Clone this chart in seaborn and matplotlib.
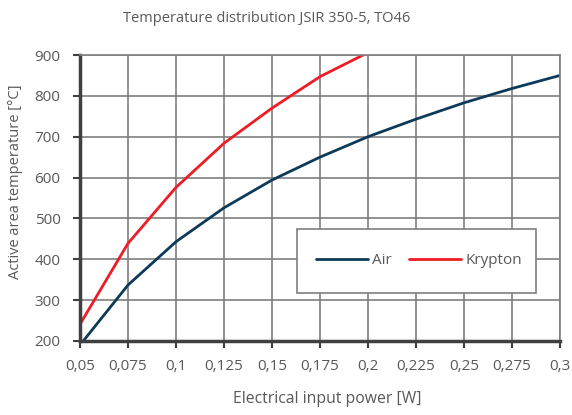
import numpy as np
import pandas as pd
import matplotlib
matplotlib.use('Agg')
import matplotlib.pyplot as plt
import seaborn as sns
from matplotlib.patches import Rectangle
from matplotlib.ticker import FuncFormatter, MultipleLocator

# 데이터
power = [0.05, 0.075, 0.1, 0.125, 0.15, 0.175, 0.2, 0.225, 0.25, 0.275, 0.3]
air = [190, 337, 443, 526, 594, 650, 700, 743, 783, 818, 850]
krypton_power = [0.05, 0.075, 0.1, 0.125, 0.15, 0.175, 0.2]
krypton = [241, 439, 576, 684, 770, 847, 906]

df = pd.concat([
    pd.DataFrame({'power': power, 'temp': air, 'gas': 'Air'}),
    pd.DataFrame({'power': krypton_power, 'temp': krypton, 'gas': 'Krypton'}),
])

sns.set_style('white')
plt.rcParams['font.family'] = ['Open Sans', 'DejaVu Sans']
text_color = '#595959'
W, H = 572, 415

fig = plt.figure(figsize=(W / 100, H / 100), dpi=100)
ax = fig.add_axes([80 / W, 74 / H, 480 / W, 286 / H])

sns.lineplot(data=df, x='power', y='temp', hue='gas',
             palette={'Air': '#0d3a58', 'Krypton': '#ee1c25'},
             linewidth=2.0, ax=ax)

ax.set_xlim(0.05, 0.3)
ax.set_ylim(200, 900)
ax.xaxis.set_major_locator(MultipleLocator(0.025))
ax.yaxis.set_major_locator(MultipleLocator(100))
ax.xaxis.set_major_formatter(FuncFormatter(lambda v, p: f'{v:.3f}'.rstrip('0').rstrip('.').replace('.', ',')))

ax.grid(True, color='#7f7f7f', linewidth=1.2)
ax.set_axisbelow(True)
for side in ['top', 'right']:
    ax.spines[side].set_color('#7f7f7f')
    ax.spines[side].set_linewidth(1.2)
for side in ['left', 'bottom']:
    ax.spines[side].set_color('#404040')
    ax.spines[side].set_linewidth(2.5)

ax.tick_params(axis='both', which='both', direction='out', length=5, width=1.5,
               color='#404040', labelsize=11, labelcolor=text_color,
               left=True, bottom=True)
ax.tick_params(axis='y', pad=9)
ax.tick_params(axis='x', pad=8)

# 제목 / 축 레이블
ax.set_xlabel('')
ax.set_ylabel('')
fig.text(267 / W, 1 - 18 / H, 'Temperature distribution JSIR 350-5, TO46',
         fontsize=10.5, color=text_color, ha='center', va='center')
fig.text(327 / W, 1 - 399 / H, 'Electrical input power [W]',
         fontsize=11.3, color=text_color, ha='center', va='center')
fig.text(16 / W, 1 - 182 / H, 'Active area temperature [°C]',
         fontsize=10.5, color=text_color, ha='center', va='center', rotation=90)

# 범례
box = Rectangle((297 / W, 1 - 293 / H), 239 / W, 64 / H, transform=fig.transFigure,
                facecolor='white', edgecolor='#7f7f7f', linewidth=1.2, zorder=3)
ax.add_patch(box)
box.set_clip_on(False)
leg = ax.legend(loc='center', bbox_to_anchor=(419 / W, 1 - 261 / H),
                bbox_transform=fig.transFigure, ncol=2, frameon=False, fontsize=11,
                handlelength=3.4, columnspacing=1.1, handletextpad=0.3)
leg.set_zorder(4)
for t in leg.get_texts():
    t.set_color(text_color)

plt.savefig('out.png', dpi=100)
